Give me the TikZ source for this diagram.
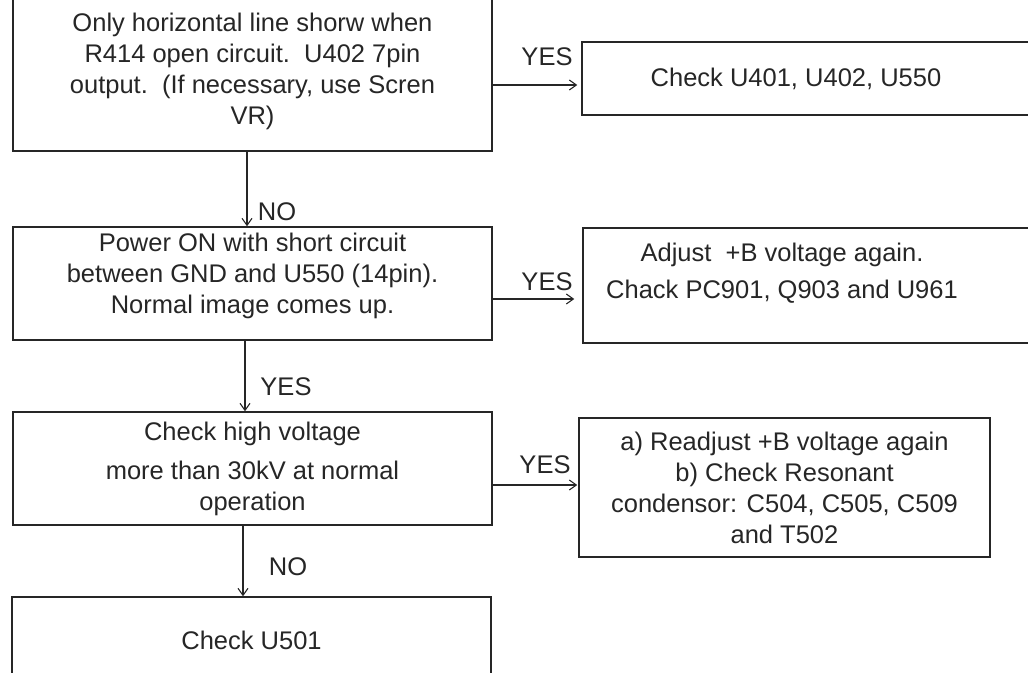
\documentclass[tikz,border=0pt]{standalone}
\usepackage{fontspec}
\setmainfont{Liberation Sans}
\usetikzlibrary{arrows.meta,positioning}
\tikzset{
  box/.style={draw=black!85, line width=1.5pt, inner sep=0pt, align=center,
    text=black!85, font=\fontsize{25.5}{31}\selectfont},
  flow/.style={draw=black!85, line width=1.1pt,
    -{Straight Barb[length=7pt,width=10pt]}},
  ans/.style={text=black!85, font=\fontsize{25.5}{31}\selectfont, inner sep=0pt},
}

\begin{document}
\begin{tikzpicture}[x=1pt, y=-1pt]
\useasboundingbox (0,0) rectangle (1028,672);
\clip (0,0) rectangle (1028,672);

%% Left column: checks
\node[box, minimum width=479pt, minimum height=160pt] (hline) at (252.5,71)
  {Only horizontal line shorw when\\ R414 open circuit.\ \ U402 7pin\\
   output.\ \ (If necessary, use Scren\\ VR)};
\node[box, minimum width=479pt, minimum height=113pt] (power) at (252.5,283.5)
  {Power ON with short circuit\\ between GND and U550 (14pin).\\
   Normal image comes up.\\[-20pt]\strut};
\node[box, minimum width=479pt, minimum height=113pt] (hv) at (252.5,468.5)
  {Check high voltage\\[8pt] more than 30kV at normal\\ operation};
\node[box, minimum width=479pt, minimum height=86pt] (u501) at (251.5,640)
  {Check U501};

%% Right column: actions
\node[box, minimum width=458pt, minimum height=73pt,
  label={[ans, xshift=-15pt]center:{Check U401, U402, U550}}] (chk1) at (811,78.5) {};
\node[box, minimum width=457pt, minimum height=115pt,
  label={[ans, align=center, xshift=-29.5pt, yshift=12pt]center:{Adjust\ \ +B voltage again.\\[6pt] Chack PC901, Q903 and U961}}]
  (adjb) at (811.5,285.5) {};
\node[box, minimum width=411pt, minimum height=139pt] (readj) at (784.5,487.5)
  {a) Readjust +B voltage again\\ b) Check Resonant\\
   condensor: C504, C505, C509\\ and T502};

%% Down arrows
\draw[flow] ([xshift=-5.5pt]hline.south) -- ([xshift=-5.5pt]hline.south |- power.north);
\draw[flow] ([xshift=-7.5pt]power.south) -- ([xshift=-7.5pt]power.south |- hv.north);
\draw[flow] ([xshift=-9.5pt]hv.south) -- ([xshift=-9.5pt]hv.south |- u501.north);

%% Side arrows
\draw[flow, shorten >=4pt] ([yshift=-14pt]hline.east) -- ([yshift=-14pt]hline.east -| chk1.west);
\draw[flow, shorten >=8pt] ([yshift=-15.5pt]power.east) -- ([yshift=-15.5pt]power.east -| adjb.west);
\draw[flow, shorten >=1pt] ([yshift=-16.5pt]hv.east) -- ([yshift=-16.5pt]hv.east -| readj.west);

%% Answers
\node[ans] (no1) at (277,212) {NO};
\node[ans] (yes1) at (547,57) {YES};
\node[ans] (yes2) at (547,282) {YES};
\node[ans] (yes3) at (286,387) {YES};
\node[ans] (yes4) at (545,465) {YES};
\node[ans] (no2) at (288,567) {NO};

\end{tikzpicture}
\end{document}
